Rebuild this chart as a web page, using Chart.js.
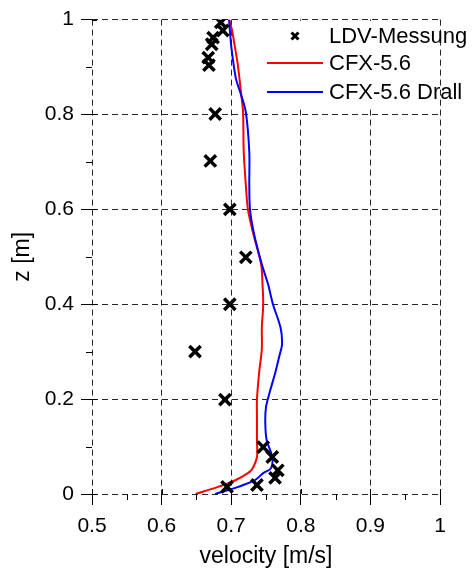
<!DOCTYPE html>
<html>
<head>
<meta charset="utf-8">
<script src="https://cdn.jsdelivr.net/npm/chart.js@4.4.0/dist/chart.umd.min.js"></script>
<style>
  html, body { margin: 0; padding: 0; background: #fff; }
  #wrap { position: relative; width: 474px; height: 568px; }
  #legend {
    position: absolute; left: 262px; top: 21px; width: 178px; height: 85px;
    background: #fff; font: 22px "Liberation Sans", Arial, sans-serif; color: #000;
  }
  .row { position: absolute; left: 0; width: 178px; height: 26px; line-height: 26px; }
  .row span { position: absolute; left: 67px; white-space: nowrap; }
  .row .ln { position: absolute; left: 5px; top: 12px; width: 56px; height: 2px; }
  .row svg { position: absolute; left: 28px; top: 8px; }
</style>
</head>
<body>
<div id="wrap">
  <canvas id="chart" width="474" height="568"></canvas>
  <div id="legend">
    <div class="row" style="top:2px">
      <svg width="10" height="10"><path d="M1.5 1.5 L8.5 8.5 M8.5 1.5 L1.5 8.5" stroke="#000" stroke-width="3"/></svg>
      <span>LDV-Messung</span>
    </div>
    <div class="row" style="top:29px"><div class="ln" style="background:#ff0000"></div><span>CFX-5.6</span></div>
    <div class="row" style="top:58px"><div class="ln" style="background:#0000ff"></div><span>CFX-5.6 Drall</span></div>
  </div>
</div>
<script>
// LDV measurement points
const ldvVelocity = [0.685, 0.688, 0.674, 0.672, 0.667, 0.668, 0.677, 0.670, 0.698, 0.721,
                     0.698, 0.648, 0.691, 0.746, 0.759, 0.767, 0.763, 0.737, 0.694];
const ldvHeight   = [0.994, 0.977, 0.962, 0.948, 0.920, 0.904, 0.801, 0.702, 0.600, 0.499,
                     0.400, 0.300, 0.199, 0.099, 0.078, 0.050, 0.034, 0.019, 0.015];

// CFX-5.6 profile
const cfxVelocity = [0.649, 0.681, 0.706, 0.724, 0.730, 0.737, 0.737, 0.737, 0.737, 0.740,
                     0.744, 0.744, 0.746, 0.745, 0.743, 0.732, 0.724, 0.721, 0.718, 0.717,
                     0.714, 0.712, 0.709, 0.705, 0.701, 0.697];
const cfxHeight   = [0.000, 0.015, 0.029, 0.044, 0.052, 0.078, 0.113, 0.161, 0.199, 0.254,
                     0.306, 0.350, 0.400, 0.442, 0.484, 0.547, 0.600, 0.652, 0.721, 0.805,
                     0.847, 0.874, 0.910, 0.945, 0.979, 1.000];

// CFX-5.6 Drall profile
const drallVelocity = [0.677, 0.710, 0.734, 0.746, 0.757, 0.759, 0.751, 0.749, 0.750, 0.756,
                       0.763, 0.769, 0.773, 0.771, 0.760, 0.753, 0.744, 0.733, 0.727, 0.726,
                       0.726, 0.721, 0.713, 0.707, 0.703, 0.700, 0.698, 0.697];
const drallHeight   = [0.000, 0.015, 0.029, 0.044, 0.054, 0.078, 0.113, 0.149, 0.183, 0.218,
                       0.254, 0.290, 0.315, 0.350, 0.400, 0.442, 0.484, 0.547, 0.600, 0.652,
                       0.721, 0.805, 0.847, 0.874, 0.910, 0.945, 0.979, 1.000];

const xMin = 0.5, xMax = 1, xStep = 0.1;
const yMin = 0, yMax = 1, yStep = 0.2;

const fontFamily = '"Liberation Sans", Arial, sans-serif';
const gridColor = 'rgba(0,0,0,0.85)';

function toPoints(xs, ys) {
    return xs.map((x, i) => ({ x: x, y: ys[i] }));
}

function fmt(v) {
    return String(+v.toFixed(1));
}

// minor ticks (outward) and inner stubs of major ticks
const axisTicks = {
    id: 'axisTicks',
    afterDraw(chart) {
        const ctx = chart.ctx;
        const area = chart.chartArea;
        const xs = chart.scales.x, ys = chart.scales.y;
        ctx.save();
        ctx.strokeStyle = '#000';
        ctx.lineWidth = 1;
        ctx.beginPath();
        xs.ticks.forEach((t, i) => {
            const px = Math.round(xs.getPixelForValue(t.value)) + 0.5;
            ctx.moveTo(px, area.bottom - 5);
            ctx.lineTo(px, area.bottom);
            if (i < xs.ticks.length - 1) {
                const mx = Math.round(xs.getPixelForValue((t.value + xs.ticks[i + 1].value) / 2)) + 0.5;
                ctx.moveTo(mx, area.bottom);
                ctx.lineTo(mx, area.bottom + 6);
            }
        });
        ys.ticks.forEach((t, i) => {
            const py = Math.round(ys.getPixelForValue(t.value)) + 0.5;
            ctx.moveTo(area.left, py);
            ctx.lineTo(area.left + 5, py);
            if (i < ys.ticks.length - 1) {
                const my = Math.round(ys.getPixelForValue((t.value + ys.ticks[i + 1].value) / 2)) + 0.5;
                ctx.moveTo(area.left - 6, my);
                ctx.lineTo(area.left, my);
            }
        });
        ctx.stroke();
        ctx.restore();
    }
};

const ctx = document.getElementById('chart').getContext('2d');
const chart = new Chart(ctx, {
    type: 'scatter',
    data: {
        datasets: [
            {
                label: 'LDV-Messung',
                data: toPoints(ldvVelocity, ldvHeight),
                pointStyle: 'crossRot',
                pointRadius: 8,
                pointBorderWidth: 3.5,
                borderColor: '#000',
                backgroundColor: '#000',
                showLine: false,
                order: 0
            },
            {
                label: 'CFX-5.6',
                data: toPoints(cfxVelocity, cfxHeight),
                showLine: true,
                borderColor: '#ff0000',
                borderWidth: 2,
                pointRadius: 0,
                tension: 0.3,
                fill: false,
                order: 2
            },
            {
                label: 'CFX-5.6 Drall',
                data: toPoints(drallVelocity, drallHeight),
                showLine: true,
                borderColor: '#0000ff',
                borderWidth: 2,
                pointRadius: 0,
                tension: 0.3,
                fill: false,
                order: 1
            }
        ]
    },
    options: {
        responsive: false,
        animation: false,
        layout: { padding: { top: 17, right: 34, left: 0, bottom: 0 } },
        plugins: { legend: { display: false }, tooltip: { enabled: false } },
        scales: {
            x: {
                type: 'linear',
                min: xMin,
                max: xMax,
                afterFit: s => { s.height = 74; },
                ticks: {
                    stepSize: xStep,
                    autoSkip: false,
                    maxRotation: 0,
                    padding: 9,
                    color: '#000',
                    font: { family: fontFamily, size: 21 },
                    callback: v => fmt(v)
                },
                grid: { color: gridColor, lineWidth: 1, tickLength: 11, tickColor: '#000', tickBorderDash: [] },
                border: { display: false, dash: [6, 4] },
                title: {
                    display: true,
                    text: 'velocity [m/s]',
                    color: '#000',
                    font: { family: fontFamily, size: 23, lineHeight: 1 },
                    padding: { top: 0, bottom: 0 }
                }
            },
            y: {
                type: 'linear',
                min: yMin,
                max: yMax,
                afterFit: s => { s.width = 92; },
                ticks: {
                    stepSize: yStep,
                    autoSkip: false,
                    padding: 7,
                    color: '#000',
                    font: { family: fontFamily, size: 21 },
                    callback: v => fmt(v)
                },
                grid: { color: gridColor, lineWidth: 1, tickLength: 11, tickColor: '#000', tickBorderDash: [] },
                border: { display: false, dash: [6, 4] },
                title: {
                    display: true,
                    text: 'z [m]',
                    color: '#000',
                    font: { family: fontFamily, size: 23 },
                    padding: { top: 9, bottom: 0 }
                }
            }
        }
    },
    plugins: [axisTicks]
});
</script>
</body>
</html>
